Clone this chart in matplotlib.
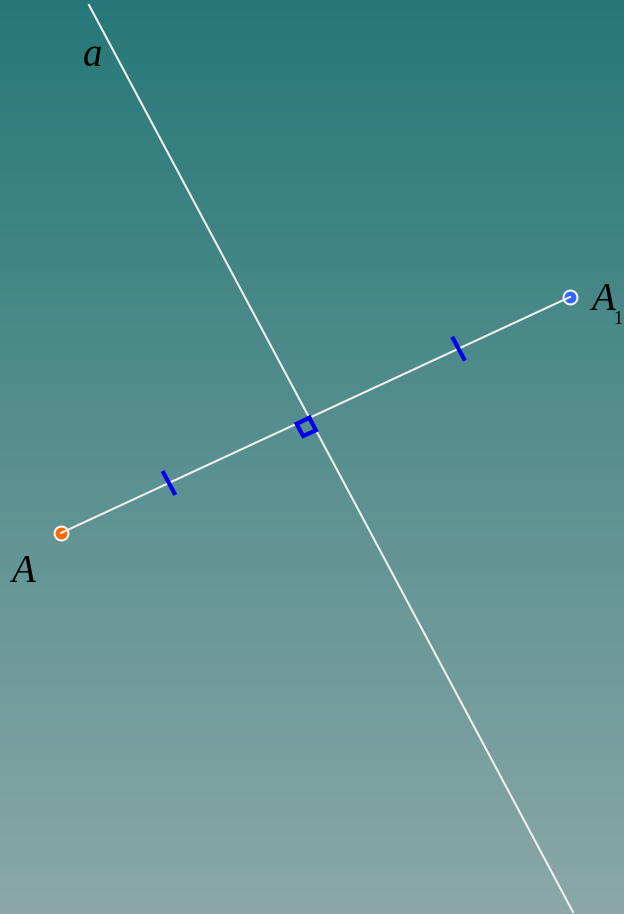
import numpy as np
import matplotlib
matplotlib.use('Agg')
import matplotlib.pyplot as plt

# -- geometry data (pixel coordinates of the picture) -- #
line_a = [(89, 5), (573, 912)]          # line a, two ends
point_A = (61, 533)
point_A1 = (570, 297)
tick_fracs = [0.212, 0.781]              # equal-length marks along A A1
tick_len = 27
square_side = 14
label_a = (93, 56)
label_A = (23, 572)
label_A1 = (603, 301)
label_sub = (623, 320)

top_color = np.array([38, 120, 120]) / 255
bottom_color = np.array([139, 168, 167]) / 255

W, H = 624, 914
fig = plt.figure(figsize=(W / 100, H / 100), dpi=100)
ax = fig.add_axes([0, 0, 1, 1])
ax.set_xlim(0, W)
ax.set_ylim(H, 0)
ax.axis('off')

# -- gradient background -- #
t = np.linspace(0, 1, 256)[:, None]
grad = top_color[None, :] * (1 - t) + bottom_color[None, :] * t
ax.imshow(grad[:, None, :].repeat(2, axis=1), extent=[0, W, H, 0], aspect='auto', zorder=0)

# -- line a and segment A A1 -- #
(ax0, ay0), (ax1, ay1) = line_a
ax.plot([ax0, ax1], [ay0, ay1], color='#f0f0f0', lw=1.5, zorder=2)

A = np.array(point_A, float)
A1 = np.array(point_A1, float)
ax.plot([A[0], A1[0]], [A[1], A1[1]], color='#f0f0f0', lw=1.5, zorder=4)

# -- foot of the perpendicular (intersection) -- #
p0 = np.array(line_a[0], float)
d = np.array(line_a[1], float) - p0
e = A1 - A
M = np.array([d, -e]).T
s, r = np.linalg.solve(M, A - p0)
P = p0 + s * d

u = (A - P) / np.linalg.norm(A - P)
v = d / np.linalg.norm(d)
sq = np.array([P, P + square_side * u, P + square_side * (u + v), P + square_side * v, P])
ax.plot(sq[:, 0], sq[:, 1], color='#0000ee', lw=3.0, solid_joinstyle='miter', zorder=5)

# -- equal-segment marks -- #
for f in tick_fracs:
    c = A + f * e
    a_end = c - v * tick_len / 2
    b_end = c + v * tick_len / 2
    ax.plot([a_end[0], b_end[0]], [a_end[1], b_end[1]], color='#0000ee', lw=3.0,
            solid_capstyle='butt', zorder=5)

# -- points -- #
ax.scatter([A[0]], [A[1]], s=100, color='#ff6a00', edgecolors='white', linewidths=1.4, zorder=3)
ax.scatter([A1[0]], [A1[1]], s=100, color='#3366ff', edgecolors='white', linewidths=1.4, zorder=3)

# -- labels -- #
font = dict(family='Liberation Serif', style='italic', color='black')
ax.text(*label_a, 'a', fontsize=28, ha='center', va='center', **font)
ax.text(*label_A, 'A', fontsize=28, ha='center', va='center', **font)
ax.text(*label_A1, 'A', fontsize=28, ha='center', va='center', **font)
ax.text(*label_sub, '1', fontsize=13, ha='right', va='center',
        family='Liberation Serif', color='black')

fig.savefig('out.png', dpi=100)
